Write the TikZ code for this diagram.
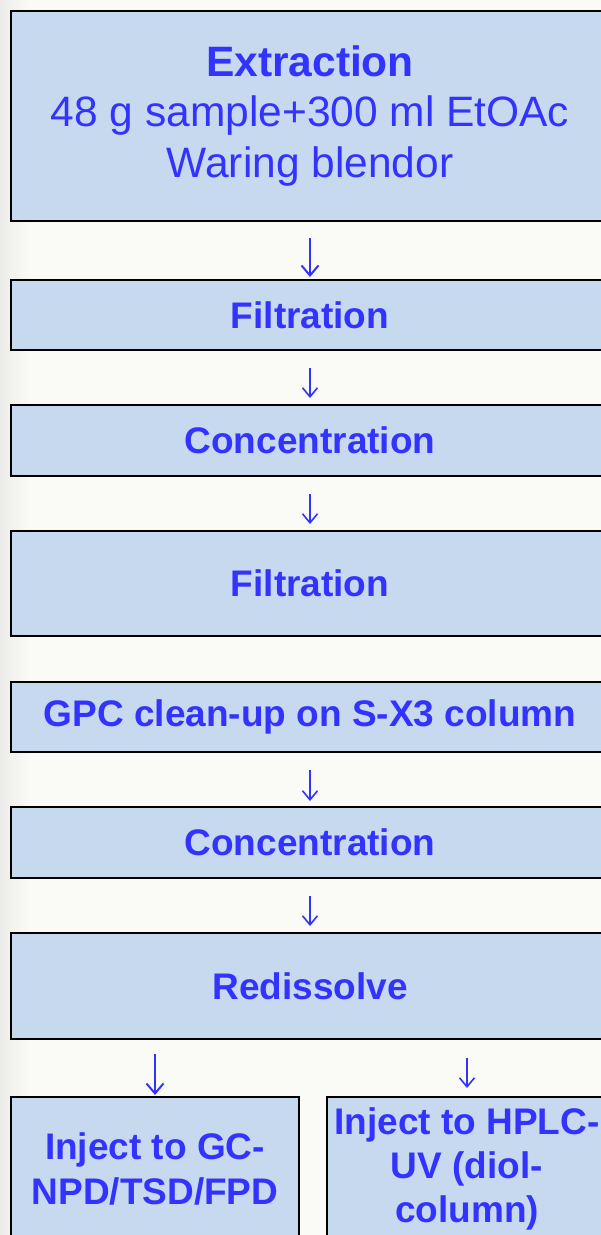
\documentclass[tikz,border=0pt]{standalone}
\usepackage{fontspec}
\setmainfont{Liberation Sans}
\usetikzlibrary{arrows.meta}

\definecolor{boxfill}{RGB}{198,217,238}
\definecolor{steptext}{RGB}{51,51,255}
\definecolor{paper}{RGB}{250,250,246}
\definecolor{paperedge}{RGB}{236,236,234}

\tikzset{
  stage/.style={draw=black, line width=2pt, fill=boxfill, rectangle, align=center,
    inner sep=0pt, text=steptext, font=\bfseries\fontsize{37}{44.4}\selectfont},
  widestage/.style={stage, minimum width=598pt},
  flow/.style={draw=steptext, line width=1.6pt, -{Straight Barb[length=9pt,width=15pt]}},
}

\begin{document}
\begin{tikzpicture}[x=1pt, y=-1pt]

\useasboundingbox (0,0) rectangle (601,1235);
\clip (0,0) rectangle (601,1235);
\fill[paper] (0,0) rectangle (601,1235);
\shade[left color=paperedge, right color=paper] (0,0) rectangle (30,1235);

% Define boxes
\node[widestage, minimum height=210pt, font=\fontsize{42.5}{50.5}\selectfont] (extract) at (310,116)
  {\textbf{Extraction}\\48 g sample+300 ml EtOAc\\Waring blendor};
\node[widestage, minimum height=70pt] (filter1) at (310,315) {Filtration};
\node[widestage, minimum height=71pt] (conc1) at (310,440.5) {Concentration};
\node[widestage, minimum height=105pt] (filter2) at (310,583.5) {Filtration};
\node[widestage, minimum height=70pt] (gpc) at (310,717) {GPC clean-up on S-X3 column};
\node[widestage, minimum height=71pt] (conc2) at (310,842.5) {Concentration};
\node[widestage, minimum height=106pt] (redis) at (310,986) {Redissolve};
\node[stage, minimum width=288pt, minimum height=144pt] (gc) at (155,1169) {Inject to GC-\\NPD/TSD/FPD};
\node[stage, minimum width=280pt, minimum height=144pt] (hplc) at (467,1169) {Inject to HPLC-\\UV (diol-\\column)};

% Draw arrows
\draw[flow, line width=2pt, -{Straight Barb[length=10pt,width=17pt]}, shorten <=16pt, shorten >=2pt] (extract) -- (filter1);
\draw[flow, shorten <=17pt, shorten >=6pt] (filter1) -- (conc1);
\draw[flow, shorten <=17pt, shorten >=6pt] (conc1) -- (filter2);
\draw[flow, shorten <=17pt, shorten >=5pt] (gpc) -- (conc2);
\draw[flow, shorten <=17pt, shorten >=6pt] (conc2) -- (redis);
\draw[flow, line width=2pt, -{Straight Barb[length=10pt,width=17pt]}, shorten <=14pt, shorten >=1pt] (redis.south -| gc.north) -- (gc.north);
\draw[flow, shorten <=18pt, shorten >=8pt] (redis.south -| hplc.north) -- (hplc.north);

\end{tikzpicture}
\end{document}
